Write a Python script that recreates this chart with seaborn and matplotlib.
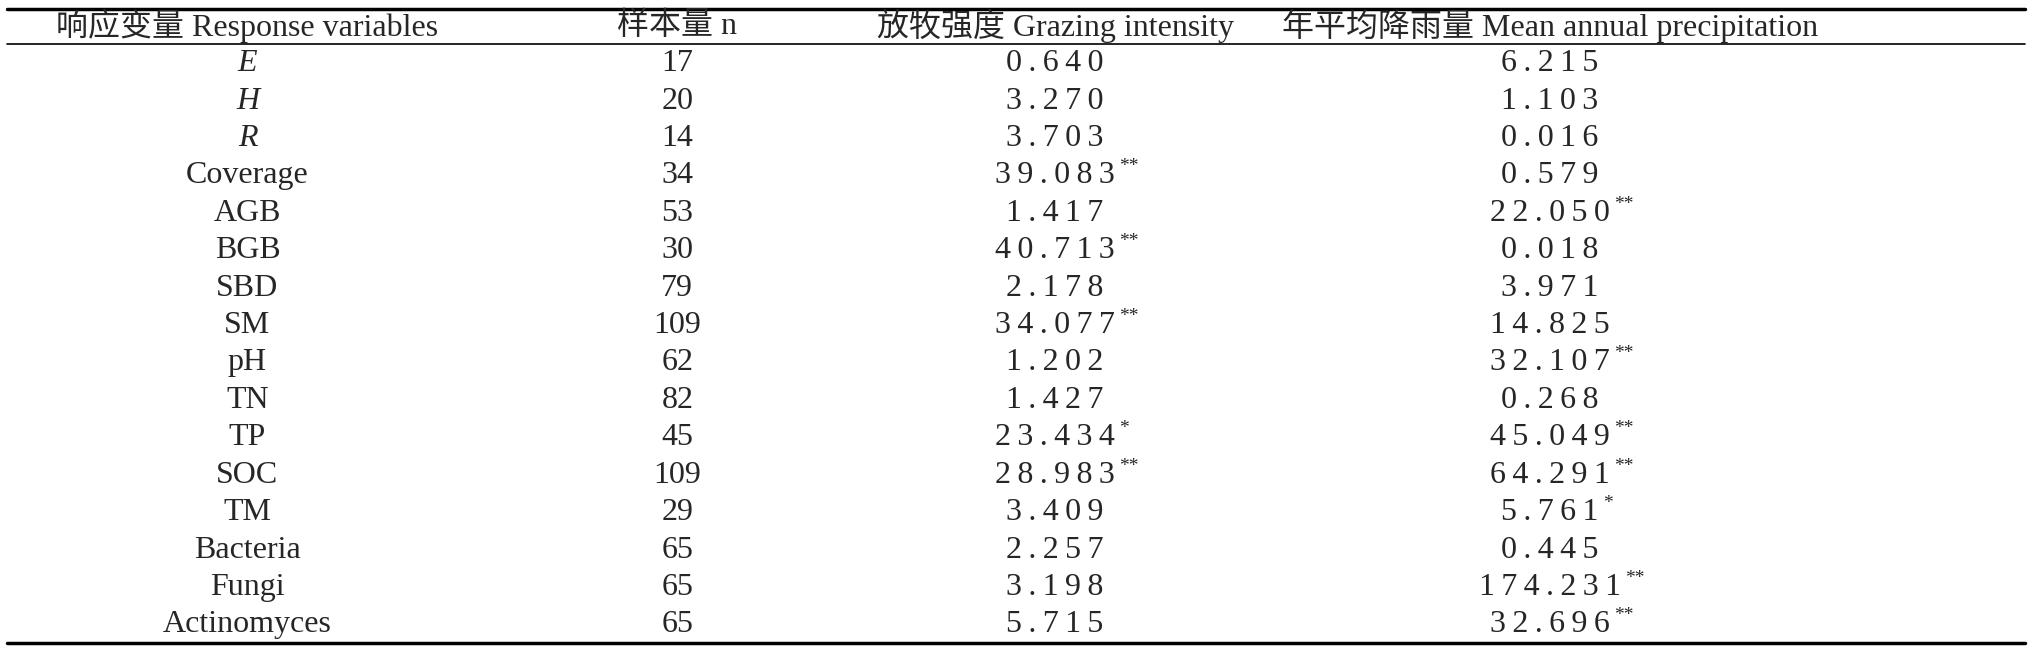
import matplotlib
matplotlib.use("Agg")
import matplotlib.pyplot as plt
import seaborn as sns

sns.set_theme(style="white")
plt.rcParams['font.family'] = ['Liberation Serif', 'Noto Sans CJK SC', 'DejaVu Sans']

headers = ["响应变量 Response variables", "样本量 n", "放牧强度 Grazing intensity",
           "年平均降雨量 Mean annual precipitation"]
variables = ["E", "H", "R", "Coverage", "AGB", "BGB", "SBD", "SM", "pH", "TN", "TP",
             "SOC", "TM", "Bacteria", "Fungi", "Actinomyces"]
italic_vars = {"E", "H", "R"}
sample_n = [17, 20, 14, 34, 53, 30, 79, 109, 62, 82, 45, 109, 29, 65, 65, 65]
grazing = ["0.640", "3.270", "3.703", "39.083", "1.417", "40.713", "2.178", "34.077",
           "1.202", "1.427", "23.434", "28.983", "3.409", "2.257", "3.198", "5.715"]
grazing_sig = ["", "", "", "**", "", "**", "", "**", "", "", "*", "**", "", "", "", ""]
precip = ["6.215", "1.103", "0.016", "0.579", "22.050", "0.018", "3.971", "14.825",
          "32.107", "0.268", "45.049", "64.291", "5.761", "0.445", "174.231", "32.696"]
precip_sig = ["", "", "", "", "**", "", "", "", "**", "", "**", "**", "*", "", "**", "**"]

fig = plt.figure(figsize=(20.32, 6.56), dpi=100)
ax = fig.add_axes([0, 0, 1, 1])
ax.set_xlim(0, 1560)
ax.set_ylim(505, 0)
ax.axis("off")

cols = [190, 520, 810, 1190]
fs = 23
ax.plot([5, 1555], [7, 7], color="black", lw=2.5)
ax.plot([5, 1555], [34, 34], color="black", lw=1.2)
ax.plot([5, 1555], [495, 495], color="black", lw=2.5)

for x, h in zip(cols, headers):
    ax.text(x, 20, h, ha="center", va="center", fontsize=fs)

def num(s):
    return "\u2009".join(s)

fig.canvas.draw()
r = fig.canvas.get_renderer()
inv = ax.transData.inverted()

y0, dy = 49, 28.8
for i, v in enumerate(variables):
    y = y0 + i * dy
    ax.text(cols[0], y, v, ha="center", va="center", fontsize=fs,
            style="italic" if v in italic_vars else "normal")
    ax.text(cols[1], y, str(sample_n[i]), ha="center", va="center", fontsize=fs)
    for x, val, sig in ((cols[2], grazing[i], grazing_sig[i]), (cols[3], precip[i], precip_sig[i])):
        t = ax.text(x, y, num(val), ha="center", va="center", fontsize=fs)
        if sig:
            bb = t.get_window_extent(renderer=r)
            xr = inv.transform((bb.x1, bb.y1))[0]
            ax.text(xr + 3, y - 7, sig, ha="left", va="center", fontsize=14)

fig.savefig("out.png", dpi=100)
